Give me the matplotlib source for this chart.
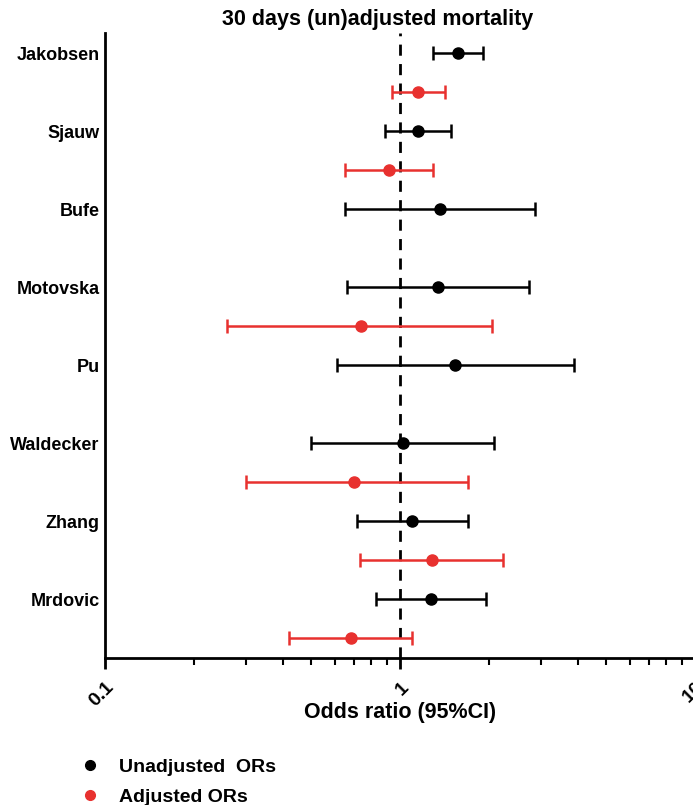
import numpy as np
import matplotlib.pyplot as plt
from matplotlib.ticker import LogLocator, NullFormatter, FixedLocator

plt.rcParams['font.family'] = ['Liberation Sans', 'DejaVu Sans']

studies = ['Jakobsen', 'Sjauw', 'Bufe', 'Motovska', 'Pu', 'Waldecker', 'Zhang', 'Mrdovic']

# unadjusted odds ratios with 95% CI
unadj_or = [1.57, 1.15, 1.37, 1.35, 1.54, 1.02, 1.10, 1.27]
unadj_lo = [1.29, 0.89, 0.65, 0.66, 0.61, 0.50, 0.715, 0.83]
unadj_hi = [1.91, 1.49, 2.87, 2.74, 3.89, 2.08, 1.70, 1.96]

# adjusted odds ratios (None = not reported)
adj_or = [1.15, 0.92, None, 0.74, None, 0.70, 1.28, 0.68]
adj_lo = [0.94, 0.65, None, 0.259, None, 0.30, 0.73, 0.42]
adj_hi = [1.42, 1.29, None, 2.05, None, 1.70, 2.23, 1.10]

black = '#000000'
red = '#e8312f'

fig = plt.figure(figsize=(6.93, 8.05), dpi=100)
ax = fig.add_axes([0.1515, 0.1826, 0.8515, 0.776])

y_unadj = np.arange(len(studies)) * 2
y_adj = y_unadj + 1

u = np.array(unadj_or)
ax.errorbar(u, y_unadj,
            xerr=[u - np.array(unadj_lo), np.array(unadj_hi) - u],
            fmt='o', color=black, ms=8, lw=1.8, capsize=5, capthick=1.8,
            label='Unadjusted  ORs', zorder=3)

idx = [i for i, v in enumerate(adj_or) if v is not None]
a = np.array([adj_or[i] for i in idx])
alo = np.array([adj_lo[i] for i in idx])
ahi = np.array([adj_hi[i] for i in idx])
ax.errorbar(a, y_adj[idx], xerr=[a - alo, ahi - a],
            fmt='o', color=red, ms=8, lw=1.8, capsize=5, capthick=1.8,
            label='Adjusted ORs', zorder=3)

ax.axvline(1, color='black', ls=(0, (4, 3)), lw=2, zorder=2)

ax.set_xscale('log')
ax.set_xlim(0.1, 10)
ax.set_ylim(15.51, -0.51)

ax.set_yticks(y_unadj)
ax.set_yticklabels(studies, fontsize=13, fontweight='bold')
ax.tick_params(axis='y', length=0, pad=4)

ax.xaxis.set_major_locator(FixedLocator([0.1, 1, 10]))
ax.set_xticklabels(['0.1', '1', '10'], fontsize=14, fontweight='bold',
                   rotation=45, ha='right', va='top', rotation_mode='anchor')
ax.xaxis.set_minor_locator(LogLocator(base=10, subs=np.arange(2, 10)))
ax.xaxis.set_minor_formatter(NullFormatter())
ax.tick_params(axis='x', which='major', length=8, width=2, pad=7)
ax.tick_params(axis='x', which='minor', length=5, width=1.5)

for s in ['top', 'right']:
    ax.spines[s].set_visible(False)
for s in ['left', 'bottom']:
    ax.spines[s].set_linewidth(2)

fig.text(0.5772, 1 - 712 / 805, 'Odds ratio (95%CI)', fontsize=15.5,
         fontweight='bold', ha='center', va='center')
fig.text(378 / 693, 1 - 20 / 805, '30 days (un)adjusted mortality',
         fontsize=15.5, fontweight='bold', ha='center', va='center')

handles, labels = ax.get_legend_handles_labels()
handles = [plt.Line2D([], [], marker='o', ls='', color=black, ms=7),
           plt.Line2D([], [], marker='o', ls='', color=red, ms=7)]
fig.legend(handles, labels, loc='upper left', bbox_to_anchor=(0.102, 0.058),
           frameon=False, prop={'weight': 'bold', 'size': 14},
           handlelength=2, handletextpad=0.5, labelspacing=0.62,
           borderaxespad=0, borderpad=0)

fig.savefig('out.png', dpi=100)
